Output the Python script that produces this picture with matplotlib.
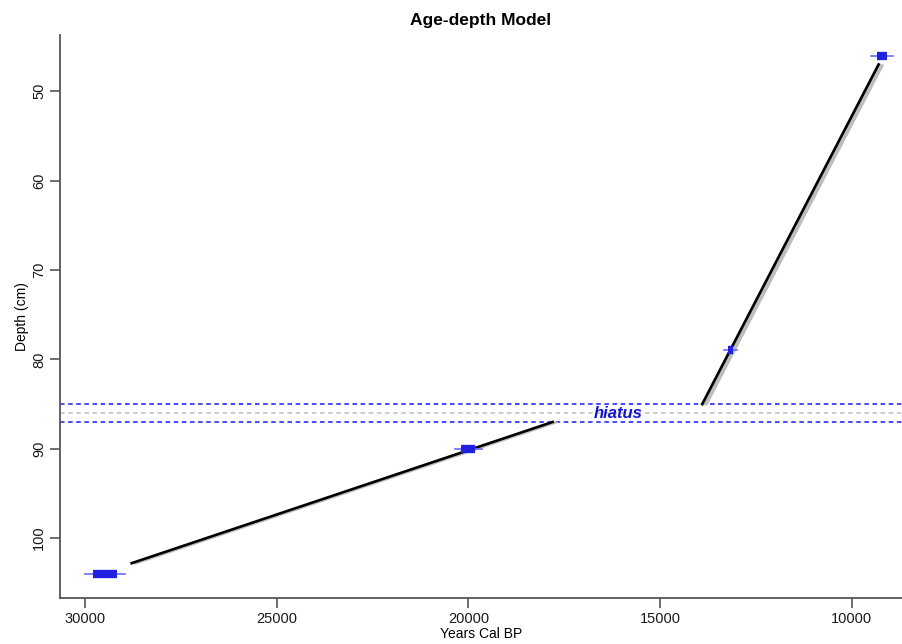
import matplotlib
matplotlib.use("Agg")
import matplotlib.pyplot as plt
import numpy as np

plt.rcParams['font.family'] = ['Liberation Sans', 'DejaVu Sans']

# dated levels (cal BP) with 1- and 2-sigma half widths
date_age = [9210, 13170, 20000, 29480]
date_depth = [46, 79, 90, 104]
date_err1 = [130, 70, 180, 310]
date_err2 = [290, 170, 350, 520]

# age-depth model segments (above / below the hiatus)
upper_age = [9300, 13900]
upper_depth = [47, 85]
lower_age = [17800, 28780]
lower_depth = [87, 102.8]
band = 110  # width of grey confidence envelope in years

hiatus_top = 85
hiatus_mid = 86
hiatus_bot = 87

fig = plt.figure(figsize=(9.02, 6.44), dpi=100)
ax = fig.add_axes([0.0665, 0.0714, 0.9335, 0.8743])

for ages, depths in [(upper_age, upper_depth), (lower_age, lower_depth)]:
    ages = np.array(ages)
    ax.fill_betweenx(depths, ages - band, ages + 30, color='#bdbdbd', lw=1.0, zorder=2)
    ax.plot(ages, depths, color='black', lw=1.9, zorder=3)

# hiatus lines
ax.axhline(hiatus_top, color='#3a3aff', ls=(0, (2.5, 2)), lw=1.3, zorder=1)
ax.axhline(hiatus_bot, color='#3a3aff', ls=(0, (2.5, 2)), lw=1.3, zorder=1)
ax.axhline(hiatus_mid, color='#c8c8c8', ls=(0, (2.5, 2)), lw=1.3, zorder=1)
ax.text(16100, hiatus_mid, 'hiatus', color='#1515d0', fontsize=12, fontweight='bold',
        fontstyle='italic', ha='center', va='center', zorder=4)

# dates
for a, d, e1, e2 in zip(date_age, date_depth, date_err1, date_err2):
    ax.plot([a - e2, a + e2], [d, d], color='#6a6aff', lw=1.2, zorder=4)
    ax.plot([a - e1, a + e1], [d, d], color='#2020e0', lw=6, solid_capstyle='butt', zorder=5)

ax.set_xlim(30650, 8690)
ax.set_ylim(106.7, 43.7)
ax.set_xticks([30000, 25000, 20000, 15000, 10000])
ax.set_yticks([50, 60, 70, 80, 90, 100])

for s in ['top', 'right']:
    ax.spines[s].set_visible(False)
for s in ['left', 'bottom']:
    ax.spines[s].set_color('#555555')
    ax.spines[s].set_linewidth(1.3)
ax.tick_params(direction='out', length=7, width=1.2, color='#555555', labelsize=10.5,
               labelcolor='#1a1a1a', pad=3)
plt.setp(ax.get_yticklabels(), rotation=90, va='center')

ax.set_xlabel('Years Cal BP', fontsize=10, labelpad=1)
ax.set_ylabel('Depth (cm)', fontsize=10, labelpad=2)
ax.set_title('Age-depth Model', fontsize=12.5, fontweight='bold', pad=7)

fig.savefig('out.png', dpi=100)
